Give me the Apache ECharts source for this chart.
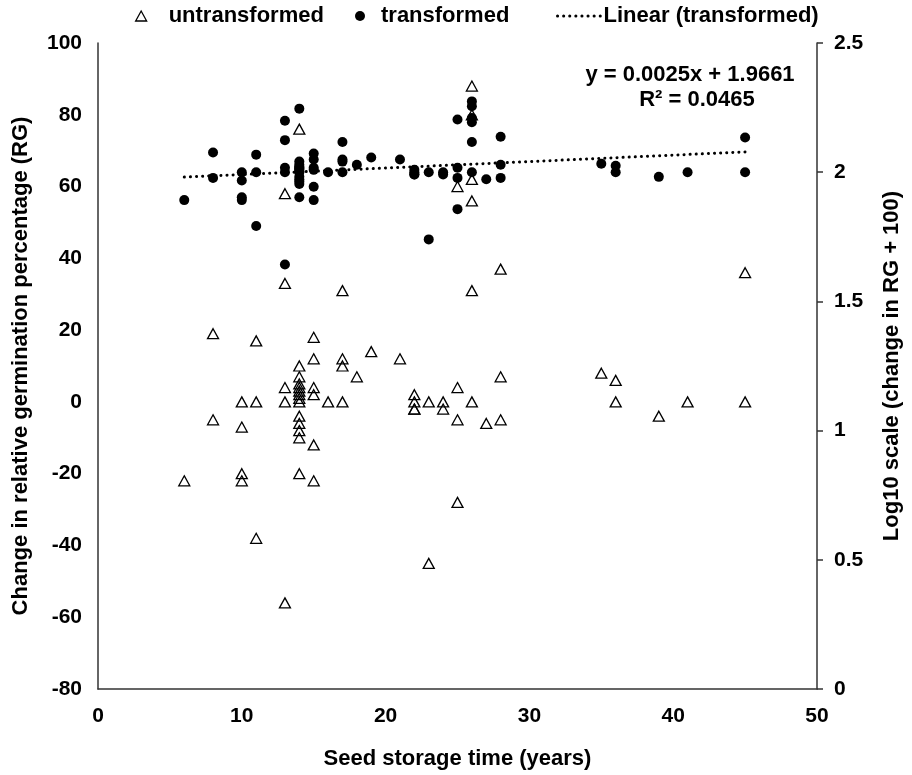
<!DOCTYPE html>
<html>
<head>
<meta charset="utf-8">
<script src="https://cdn.jsdelivr.net/npm/echarts@6/dist/echarts.min.js"></script>
<style>
html,body{margin:0;padding:0;background:#fff;}
#chart{width:912px;height:775px;}
</style>
</head>
<body>
<div id="chart"></div>
<script>
// Seed storage time (years) for each observation
var storageYears = [
  6,
  8, 8,
  10, 10, 10, 10,
  11, 11, 11,
  13, 13, 13, 13, 13,
  14, 14, 14, 14, 14, 14, 14, 14, 14, 14, 14, 14, 14, 14,
  15, 15, 15, 15, 15, 15,
  16,
  17, 17, 17, 17,
  18,
  19,
  21,
  22, 22, 22, 22,
  23, 23,
  24, 24,
  25, 25, 25, 25,
  26, 26, 26, 26, 26, 26,
  27,
  28, 28, 28,
  35,
  36, 36,
  39,
  41,
  45, 45
];
// Change in relative germination percentage (RG), left axis
var untransformed = [
  -22,
  19, -5,
  0, -7, -20, -22,
  17, 0, -38,
  58, 33, 4, 0, -56,
  76, 10, 7, 5, 4, 3, 2, 1, 0, -4, -6, -8, -10, -20,
  18, 12, 4, 2, -12, -22,
  0,
  31, 12, 10, 0,
  7,
  14,
  12,
  2, 0, -2, -2,
  0, -45,
  0, -2,
  60, 4, -5, -28,
  88, 80, 62, 56, 31, 0,
  -6,
  37, 7, -5,
  8,
  6, 0,
  -4,
  0,
  36, 0
];
// Log10 scale (change in RG + 100), right axis
var transformed = [
  1.892,
  2.076, 1.978,
  2.000, 1.968, 1.903, 1.892,
  2.068, 2.000, 1.792,
  2.199, 2.124, 2.017, 2.000, 1.643,
  2.246, 2.041, 2.029, 2.021, 2.017, 2.013, 2.009, 2.004, 2.000, 1.982, 1.973, 1.964, 1.954, 1.903,
  2.072, 2.049, 2.017, 2.009, 1.944, 1.892,
  2.000,
  2.117, 2.049, 2.041, 2.000,
  2.029,
  2.057,
  2.049,
  2.009, 2.000, 1.991, 1.991,
  2.000, 1.740,
  2.000, 1.991,
  2.204, 2.017, 1.978, 1.857,
  2.274, 2.255, 2.210, 2.193, 2.117, 2.000,
  1.973,
  2.137, 2.029, 1.978,
  2.033,
  2.025, 2.000,
  1.982,
  2.000,
  2.134, 2.000
];
// Linear trend of the transformed series (from the chart's equation)
var trendSlope = 0.0025;
var trendIntercept = 1.9661;
var trendRSquared = 0.0465;
var xTicks = [0, 10, 20, 30, 40, 50];
var leftTicks = [-80, -60, -40, -20, 0, 20, 40, 60, 80, 100];
var rightTicks = [0, 0.5, 1, 1.5, 2, 2.5];

var seriesNames = ['untransformed', 'transformed', 'Linear (transformed)'];

var untransData = storageYears.map(function (x, i) { return [x, untransformed[i]]; });
var transData = storageYears.map(function (x, i) { return [x, transformed[i]]; });
var xMinData = Math.min.apply(null, storageYears);
var xMaxData = Math.max.apply(null, storageYears);
var trendData = [
  [xMinData, trendSlope * xMinData + trendIntercept],
  [xMaxData, trendSlope * xMaxData + trendIntercept]
];

var FONT = '"Liberation Sans", Arial, sans-serif';
var AX = '#333333';
var TXT = 22;
var TICK = 21;
function ts(size, extra) {
  var o = { color: '#000', fontFamily: FONT, fontWeight: 'bold', fontSize: size };
  if (extra) { for (var k in extra) o[k] = extra[k]; }
  return o;
}
var DOT_DASH = [0.1, 6];

var chart = echarts.init(document.getElementById('chart'), null, { renderer: 'canvas' });
chart.setOption({
  backgroundColor: '#fff',
  animation: false,
  textStyle: { fontFamily: FONT },
  grid: { left: 98, right: 95, top: 43, bottom: 84, containLabel: false },
  legend: [
    {
      data: [{ name: seriesNames[0], icon: 'triangle' }],
      left: 130, top: 0, itemWidth: 11, itemHeight: 10,
      textStyle: ts(TXT, { padding: [0, 0, 0, 17] }),
      itemStyle: { color: 'transparent', borderColor: '#000', borderWidth: 1.3 }
    },
    {
      data: [{ name: seriesNames[1], icon: 'circle' }],
      left: 350, top: 0, itemWidth: 10, itemHeight: 10,
      textStyle: ts(TXT, { padding: [0, 0, 0, 11] }),
      itemStyle: { color: '#000', opacity: 1 }
    },
    {
      data: [seriesNames[2]],
      left: 551, top: 0, itemWidth: 45, itemHeight: 12,
      textStyle: ts(TXT, { padding: [0, 0, 0, -4] }),
      itemStyle: { opacity: 0 },
      lineStyle: { color: '#000', width: 3, type: DOT_DASH, cap: 'round', opacity: 1 }
    }
  ],
  xAxis: {
    type: 'value', min: xTicks[0], max: xTicks[xTicks.length - 1], interval: 10,
    name: 'Seed storage time (years)', nameLocation: 'middle', nameGap: 59,
    nameTextStyle: ts(TXT),
    axisLine: { show: true, onZero: false, lineStyle: { color: AX, width: 1.5 } },
    axisTick: { show: false },
    splitLine: { show: false },
    axisLabel: ts(TICK, { margin: 17 })
  },
  yAxis: [
    {
      type: 'value', min: leftTicks[0], max: leftTicks[leftTicks.length - 1], interval: 20,
      position: 'left',
      name: 'Change in relative germination percentage (RG)', nameLocation: 'middle', nameGap: 66, nameRotate: 90,
      nameTextStyle: ts(TXT),
      axisLine: { show: true, onZero: false, lineStyle: { color: AX, width: 1.5 } },
      axisTick: { show: false },
      splitLine: { show: false },
      axisLabel: ts(TICK, { margin: 16 })
    },
    {
      type: 'value', min: rightTicks[0], max: rightTicks[rightTicks.length - 1], interval: 0.5,
      position: 'right',
      name: 'Log10 scale (change in RG + 100)', nameLocation: 'middle', nameGap: 64, nameRotate: 90,
      nameTextStyle: ts(TXT),
      axisLine: { show: true, onZero: false, lineStyle: { color: AX, width: 1.5 } },
      axisTick: { show: true, inside: false, length: 6, lineStyle: { color: AX, width: 1.5 } },
      splitLine: { show: false },
      axisLabel: ts(TICK, { margin: 17 })
    }
  ],
  series: [
    {
      name: seriesNames[0], type: 'scatter', yAxisIndex: 0,
      symbol: 'triangle', symbolSize: [11, 10],
      itemStyle: { color: 'transparent', borderColor: '#000', borderWidth: 1.3, opacity: 1 },
      data: untransData, z: 2
    },
    {
      name: seriesNames[1], type: 'scatter', yAxisIndex: 1,
      symbol: 'circle', symbolSize: 10,
      itemStyle: { color: '#000', opacity: 1 },
      data: transData, z: 3
    },
    {
      name: seriesNames[2], type: 'line', yAxisIndex: 1,
      symbol: 'none', silent: true,
      itemStyle: { color: 'transparent' },
      lineStyle: { color: '#000', width: 3, type: DOT_DASH, cap: 'round' },
      data: trendData, z: 4
    }
  ],
  graphic: [
    {
      type: 'text', x: 690, y: 75,
      style: { text: 'y = ' + trendSlope.toFixed(4) + 'x + ' + trendIntercept.toFixed(4), fill: '#000', font: 'bold 22px ' + FONT, align: 'center', verticalAlign: 'middle' }
    },
    {
      type: 'text', x: 697, y: 100,
      style: { text: 'R\u00b2 = ' + trendRSquared.toFixed(4), fill: '#000', font: 'bold 22px ' + FONT, align: 'center', verticalAlign: 'middle' }
    }
  ]
});
</script>
</body>
</html>
